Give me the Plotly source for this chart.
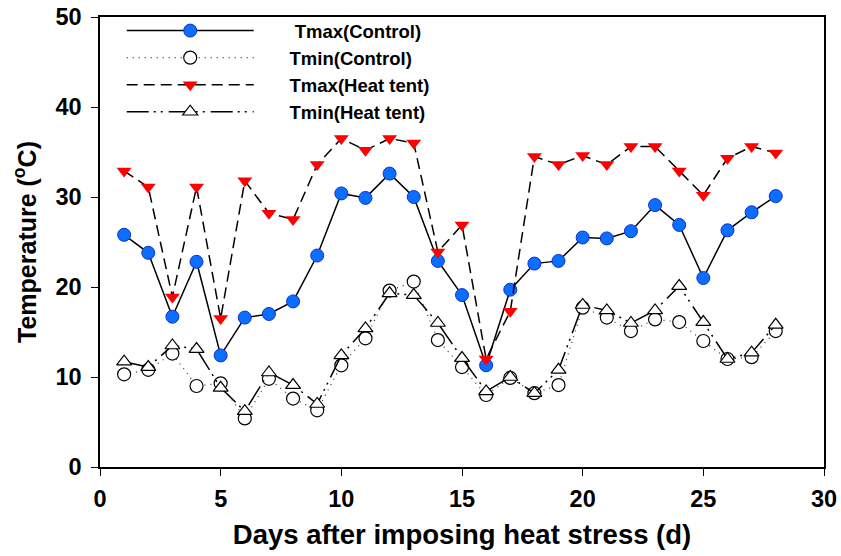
import plotly.graph_objects as go

days = list(range(1, 29))

tmax_control = [25.8, 23.8, 16.7, 22.8, 12.4, 16.6, 17.0, 18.4, 23.5, 30.4,
                29.9, 32.6, 30.0, 22.9, 19.1, 11.3, 19.7, 22.6, 22.9, 25.5,
                25.4, 26.2, 29.1, 26.9, 21.0, 26.3, 28.3, 30.1]
tmin_control = [10.3, 10.8, 12.6, 9.0, 9.3, 5.4, 9.8, 7.6, 6.3, 11.3,
                14.3, 19.6, 20.6, 14.1, 11.1, 8.0, 9.9, 8.2, 9.1, 17.7,
                16.6, 15.1, 16.4, 16.1, 14.0, 12.0, 12.2, 15.1]
tmax_heat = [32.9, 31.1, 18.9, 31.1, 16.5, 31.8, 28.2, 27.5, 33.6, 36.5,
             35.2, 36.5, 36.0, 23.9, 26.9, 12.0, 17.3, 34.5, 33.6, 34.6,
             33.6, 35.6, 35.6, 32.9, 30.2, 34.3, 35.6, 34.9]
tmin_heat = [11.7, 11.1, 13.5, 13.1, 8.8, 6.2, 10.5, 9.1, 7.0, 12.4,
             15.4, 19.3, 19.1, 16.0, 12.1, 8.4, 10.0, 8.2, 10.8, 18.0,
             17.4, 16.0, 17.4, 20.1, 16.1, 12.0, 12.7, 15.8]

series_names = ["Tmax(Control)", "Tmin(Control)", "Tmax(Heat tent)", "Tmin(Heat tent)"]
name_indent = [7, 6, 6, 6]  # legend text offset (non-breaking spaces)
x_ticks = [0, 5, 10, 15, 20, 25, 30]
y_ticks = [0, 10, 20, 30, 40, 50]

FONT = "Liberation Sans, Arial, sans-serif"

def legend_name(i):
    return "\u00a0" * name_indent[i] + series_names[i]

fig = go.Figure()

fig.add_trace(go.Scatter(
    x=days, y=tmax_control, name=legend_name(0), mode="lines+markers",
    line=dict(color="black", width=1.5),
    marker=dict(symbol="circle", size=13, color="#0A6EFF",
                line=dict(color="#1030D0", width=1)),
))
fig.add_trace(go.Scatter(
    x=days, y=tmin_control, name=legend_name(1), mode="lines+markers",
    line=dict(color="#333333", width=1.2, dash="1px,5px"),
    marker=dict(symbol="circle", size=13, color="white",
                line=dict(color="black", width=1.2)),
))
fig.add_trace(go.Scatter(
    x=days, y=tmax_heat, name=legend_name(2), mode="lines+markers",
    line=dict(color="black", width=1.5, dash="11px,6px"),
    marker=dict(symbol="triangle-down", size=13, color="#FF0000",
                line=dict(color="#FF0000", width=0)),
))
fig.add_trace(go.Scatter(
    x=days, y=tmin_heat, name=legend_name(3), mode="lines+markers",
    line=dict(color="black", width=1.5, dash="22px,5px,2px,5px,2px,6px"),
    marker=dict(symbol="triangle-up", size=13, color="white",
                line=dict(color="black", width=1.2)),
))

axis_common = dict(
    showline=True, linecolor="black", linewidth=1.5, mirror=True,
    ticks="outside", ticklen=7, tickwidth=1.2, tickcolor="black",
    showgrid=False, zeroline=False, automargin=False,
    tickfont=dict(family=FONT, size=23.5, color="black", weight="bold"),
)

fig.update_layout(
    template="none",
    width=841, height=556,
    margin=dict(l=100, r=17, t=17, b=89),
    paper_bgcolor="white", plot_bgcolor="white",
    showlegend=True,
    legend=dict(
        x=0.03, y=1.011, xanchor="left", yanchor="top",
        bgcolor="rgba(255,255,255,0)", borderwidth=0,
        font=dict(family=FONT, size=18.5, color="black", weight="bold"),
        itemwidth=127,
        tracegroupgap=0,
    ),
    xaxis=dict(
        range=[0, 30], tickvals=x_ticks, ticklabelstandoff=3,
        title=dict(text="Days after imposing heat stress (d)", standoff=14,
                   font=dict(family=FONT, size=27.5, color="black", weight="bold")),
        **axis_common,
    ),
    yaxis=dict(
        range=[0, 50], tickvals=y_ticks, ticklabelstandoff=5,
        title=dict(text="Temperature (<sup>o</sup>C)", standoff=12,
                   font=dict(family=FONT, size=25, color="black", weight="bold")),
        **axis_common,
    ),
)

fig.write_html("out.html")
